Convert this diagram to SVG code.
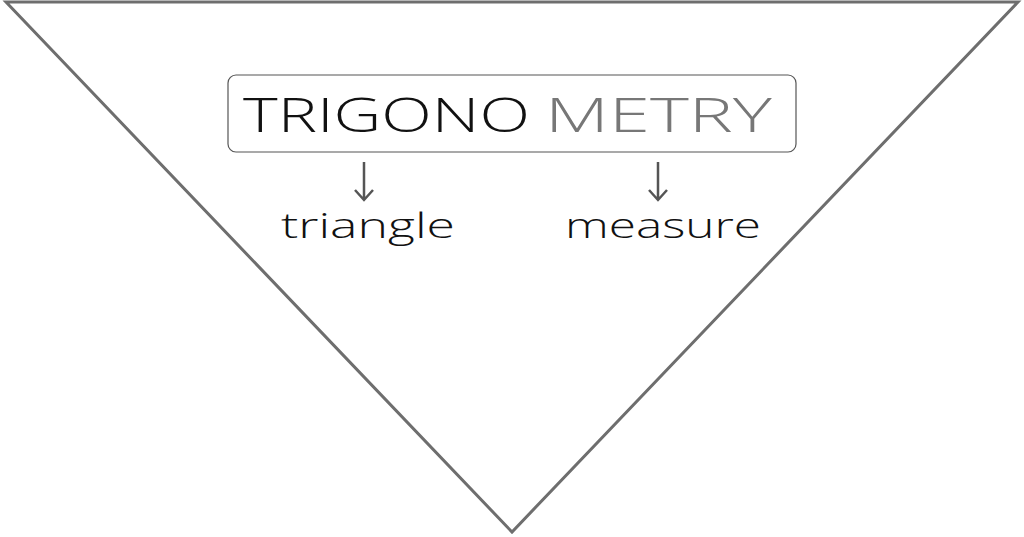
<svg xmlns="http://www.w3.org/2000/svg" width="1024" height="537" viewBox="0 0 1024 537">
<style>
.t{font-family:"Open Sans","DejaVu Sans",sans-serif;font-weight:300;}
.arr{stroke:#555;stroke-width:2.5;fill:none}
</style>
<rect width="1024" height="537" fill="#fff"/>
<g id="triangle-shape"><polygon points="6,2 1018,2 512,532" fill="none" stroke="#6e6e6e" stroke-width="3"/></g>
<g id="title">
<rect x="228" y="75" width="568" height="77" rx="8" fill="#fff" stroke="#555" stroke-width="1.2"/>
<text class="t" x="243" y="132" font-size="48" fill="#111" textLength="287" lengthAdjust="spacingAndGlyphs">TRIGONO</text>
<text class="t" x="545" y="132" font-size="48" fill="#777" textLength="227" lengthAdjust="spacingAndGlyphs">METRY</text>
</g>
<g id="connectors">
<path class="arr" d="M364,162 V199 M355,190 L364,200 L373,190"/>
<path class="arr" d="M658,162 V199 M649,190 L658,200 L667,190"/>
</g>
<g id="triangle-label"><text class="t" x="281" y="238" font-size="35" fill="#111" textLength="174" lengthAdjust="spacingAndGlyphs">triangle</text></g>
<g id="measure-label"><text class="t" x="565" y="238" font-size="35" fill="#111" textLength="196" lengthAdjust="spacingAndGlyphs">measure</text></g>
</svg>
